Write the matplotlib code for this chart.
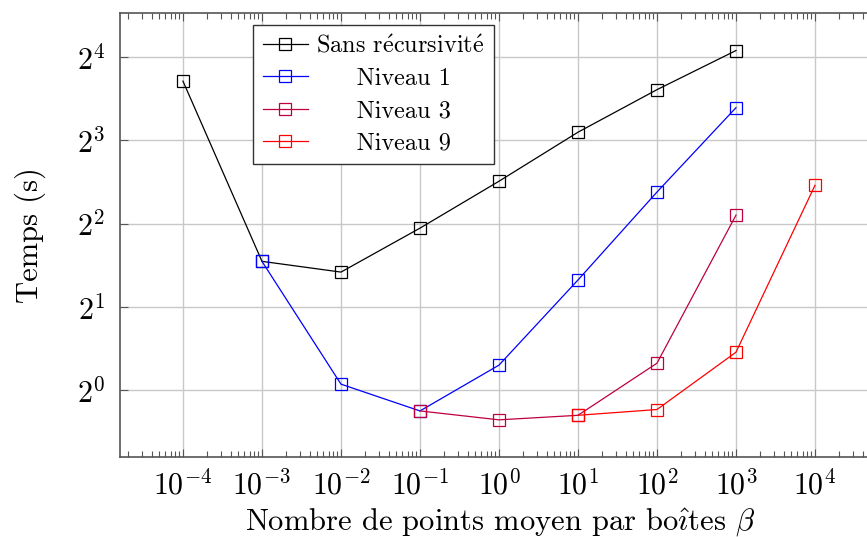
import numpy as np
import matplotlib
matplotlib.use("Agg")
import matplotlib.pyplot as plt
from matplotlib.ticker import LogLocator, LogFormatterMathtext, NullFormatter, FixedLocator

plt.rcParams['font.family'] = ['cmr10', 'DejaVu Serif']
plt.rcParams['mathtext.fontset'] = 'cm'
plt.rcParams['axes.formatter.use_mathtext'] = True

# beta values (points per box) and timings (s)
beta_sans = [1e-4, 1e-3, 1e-2, 1e-1, 1e0, 1e1, 1e2, 1e3]
t_sans = [13.1, 2.92, 2.67, 3.85, 5.69, 8.56, 12.2, 16.9]

beta_n1 = [1e-3, 1e-2, 1e-1, 1e0, 1e1, 1e2, 1e3]
t_n1 = [2.92, 1.05, 0.84, 1.23, 2.50, 5.2, 10.5]

beta_n3 = [1e-1, 1e0, 1e1, 1e2, 1e3]
t_n3 = [0.84, 0.78, 0.81, 1.25, 4.29]

beta_n9 = [1e1, 1e2, 1e3, 1e4]
t_n9 = [0.81, 0.85, 1.37, 5.5]

x_ticks = [1e-4, 1e-3, 1e-2, 1e-1, 1e0, 1e1, 1e2, 1e3, 1e4]
y_ticks = [1, 2, 4, 8, 16]

# cmr10 has no accented glyphs, so accents go through mathtext
labels = [r"Sans r$\acute{\mathrm{e}}$cursivit$\acute{\mathrm{e}}$",
          "     Niveau 1", "     Niveau 3", "     Niveau 9"]
colors = ["black", "blue", (0.75, 0, 0.25), "red"]

fig = plt.figure(figsize=(8.67, 5.37), dpi=100)
ax = fig.add_axes([120/867, 1 - 457/537, 760/867, 444/537])

series = [(beta_sans, t_sans), (beta_n1, t_n1), (beta_n3, t_n3), (beta_n9, t_n9)]
for (x, y), lab, c in zip(series, labels, colors):
    ax.plot(x, y, color=c, lw=0.9, marker='s', ms=9, mfc='none', mec=c, mew=0.9, label=lab)

ax.set_xscale('log')
ax.set_yscale('log', base=2)
ax.set_xlim(10**-4.797, 10**4.823)
ax.set_ylim(2**-0.805, 2**4.53)

ax.xaxis.set_major_locator(FixedLocator(x_ticks))
ax.xaxis.set_major_formatter(LogFormatterMathtext(base=10))
ax.xaxis.set_minor_locator(LogLocator(base=10, subs=np.arange(2, 10), numticks=20))
ax.xaxis.set_minor_formatter(NullFormatter())
ax.yaxis.set_major_locator(FixedLocator(y_ticks))
ax.yaxis.set_major_formatter(LogFormatterMathtext(base=2))
ax.yaxis.set_minor_locator(plt.NullLocator())

ax.grid(True, which='major', color='#c8c8c8', lw=1.0)
ax.set_axisbelow(True)
for s in ax.spines.values():
    s.set_color('#555555')
    s.set_linewidth(1.2)

ax.tick_params(axis='x', which='both', direction='in', top=True, bottom=True, colors='#555555', labelcolor='black', labelsize=21.5, pad=9)
ax.tick_params(axis='x', which='major', length=6)
ax.tick_params(axis='x', which='minor', length=4, width=0.8)
ax.tick_params(axis='y', which='major', direction='in', left=True, right=True, length=6, colors='#555555', labelcolor='black', labelsize=21.5, pad=11)

ax.set_xlabel(r"Nombre de points moyen par bo$\hat{\imath}$tes $\beta$", fontsize=22, labelpad=4)
ax.set_ylabel("Temps (s)", fontsize=22, labelpad=22)

leg = ax.legend(loc='upper left', bbox_to_anchor=(0.175, 0.973), borderaxespad=0, fontsize=17.5,
                frameon=True, fancybox=False, edgecolor='#333333', framealpha=1,
                handlelength=1.85, borderpad=0.4, labelspacing=0.42, handletextpad=0.35)
leg.get_frame().set_linewidth(1.0)

fig.savefig("out.png", dpi=100)
